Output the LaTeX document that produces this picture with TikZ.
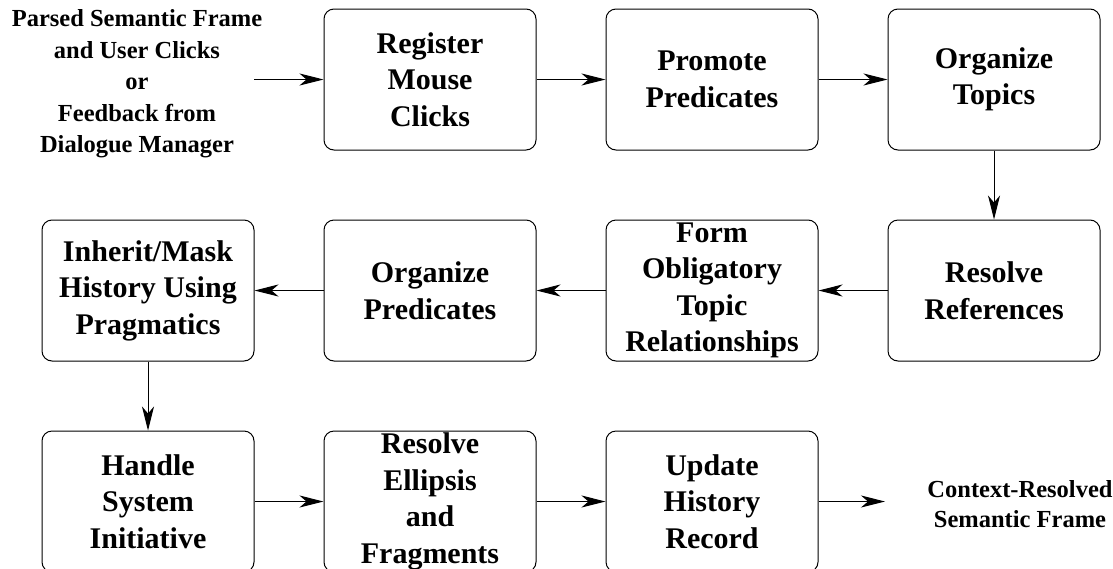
\documentclass[tikz,border=0pt]{standalone}
\usepackage{fontspec}
\setmainfont{Liberation Serif}
\usetikzlibrary{arrows.meta}
\tikzset{
  stepbox/.style={draw=black, line width=1pt, rounded corners=10pt, minimum width=212pt, minimum height=141pt, inner sep=0pt, align=center, font=\bfseries\fontsize{30}{36.5}\selectfont},
  iotext/.style={align=center, inner sep=0pt, font=\bfseries\fontsize{24.5}{31.5}\selectfont},
  flow/.style={draw=black, line width=1pt, -{Stealth[length=24pt,width=12pt,inset=7pt]}}
}
\begin{document}
\begin{tikzpicture}[x=1pt,y=-1pt]
\clip (0,0) rectangle (1113,568);
% row 1
\node[iotext] (in) at (137,84) {Parsed Semantic Frame\\and User Clicks\\or\\Feedback from\\Dialogue Manager};
\node[stepbox] (reg) at (430,79.5) {Register\\Mouse\\Clicks};
\node[stepbox] (prom) at (712,79.5) {Promote\\Predicates};
\node[stepbox] (orgt) at (994,79.5) {Organize\\Topics};
% row 2
\node[stepbox] (inh) at (148,290.5) {Inherit/Mask\\History Using\\Pragmatics};
\node[stepbox] (orgp) at (430,290.5) {Organize\\Predicates};
\node[stepbox] (form) at (712,290.5) {Form\\Obligatory\\Topic\\Relationships};
\node[stepbox] (resr) at (994,290.5) {Resolve\\References};
% row 3
\node[stepbox] (hand) at (148,501.5) {Handle\\System\\Initiative};
\node[stepbox] (ell) at (430,501.5) {Resolve\\Ellipsis\\and\\Fragments};
\node[stepbox] (upd) at (712,501.5) {Update\\History\\Record};
\node[iotext, font=\bfseries\fontsize{24.5}{30}\selectfont] (out) at (1020,504) {Context-Resolved\\Semantic Frame};
\coordinate (inA) at (254,79.5);
\coordinate (outA) at (885,501.5);
% connectors
\draw[flow] (inA) -- (reg);
\draw[flow] (reg) -- (prom);
\draw[flow] (prom) -- (orgt);
\draw[flow] (orgt) -- (resr);
\draw[flow] (resr) -- (form);
\draw[flow] (form) -- (orgp);
\draw[flow] (orgp) -- (inh);
\draw[flow] (inh) -- (hand);
\draw[flow] (hand) -- (ell);
\draw[flow] (ell) -- (upd);
\draw[flow] (upd) -- (outA);
\end{tikzpicture}
\end{document}
